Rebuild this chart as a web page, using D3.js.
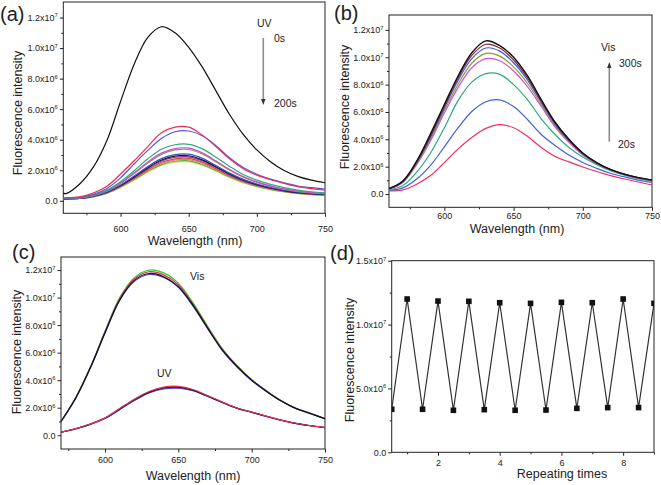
<!DOCTYPE html>
<html><head><meta charset="utf-8">
<script src="https://cdn.jsdelivr.net/npm/d3@7"></script>
<style>body{margin:0;background:#fff} text{font-family:"Liberation Sans",Arial,sans-serif}</style>
</head><body><svg id="c" width="661" height="485"></svg>
<script>
// ---------- DATA (intensities in units of 1e6) ----------
// Panel (a): UV irradiation 0 s -> 200 s
const wlA = [558,560,570,580,590,600,610,620,630,640,650,660,670,680,690,700,710,720,730,740,750];
const aBlack   = [0.5,0.47,1.1,2.2,3.95,6.5,8.95,10.7,11.4,11.0,10.05,8.75,7.2,5.65,4.35,3.33,2.56,1.98,1.6,1.35,1.18];
const aRed     = [0.2,0.2,0.26,0.5,0.95,1.75,2.62,3.55,4.45,4.83,4.82,4.3,3.55,2.75,2.1,1.68,1.38,1.14,0.93,0.8,0.7];
const aBlue    = [0.18,0.18,0.23,0.41,0.81,1.5,2.42,3.3,4.08,4.52,4.57,4.26,3.61,2.82,2.18,1.74,1.42,1.17,0.97,0.86,0.77];
const aTeal    = [0.15,0.15,0.21,0.37,0.7,1.25,1.97,2.75,3.37,3.67,3.7,3.4,2.85,2.25,1.72,1.35,1.07,0.86,0.7,0.59,0.52];
const aMagenta = [0.15,0.15,0.2,0.35,0.66,1.17,1.83,2.54,3.12,3.42,3.45,3.14,2.61,2.05,1.59,1.24,0.98,0.78,0.64,0.54,0.48];
const aOlive   = [0.15,0.15,0.19,0.34,0.64,1.14,1.78,2.47,3.04,3.33,3.36,3.06,2.54,2.0,1.55,1.21,0.95,0.76,0.62,0.53,0.47];
const aNavy    = [0.14,0.14,0.17,0.31,0.58,1.04,1.62,2.24,2.76,3.02,3.05,2.78,2.31,1.81,1.4,1.1,0.87,0.69,0.56,0.48,0.43];
const aBlack2  = [0.14,0.14,0.17,0.3,0.56,1.0,1.56,2.17,2.67,2.92,2.95,2.68,2.23,1.76,1.36,1.06,0.84,0.67,0.54,0.46,0.41];
const aPurple  = [0.13,0.13,0.16,0.29,0.55,0.98,1.53,2.12,2.61,2.85,2.88,2.62,2.18,1.71,1.32,1.04,0.82,0.65,0.53,0.45,0.4];
const aRed2    = [0.13,0.13,0.16,0.28,0.53,0.95,1.47,2.04,2.52,2.75,2.78,2.53,2.1,1.65,1.28,1.0,0.79,0.63,0.51,0.44,0.39];
const aPink    = [0.13,0.13,0.15,0.27,0.51,0.92,1.43,1.98,2.44,2.67,2.7,2.46,2.04,1.61,1.24,0.97,0.77,0.61,0.5,0.42,0.38];
const aGreen   = [0.12,0.12,0.15,0.26,0.5,0.89,1.39,1.93,2.37,2.59,2.62,2.38,1.98,1.56,1.21,0.94,0.74,0.59,0.48,0.41,0.37];
const aYellow  = [0.12,0.12,0.15,0.26,0.48,0.87,1.35,1.87,2.31,2.52,2.55,2.32,1.93,1.52,1.17,0.92,0.72,0.58,0.47,0.4,0.36];

// Panel (b): visible irradiation 20 s -> 300 s
const wlB = [560,570,580,590,600,610,620,630,640,650,660,670,680,690,700,710,720,730,740,750];
const bRed     = [0.22,0.3,0.72,1.35,2.3,3.3,4.15,4.8,5.08,4.85,4.22,3.4,2.75,2.35,1.98,1.65,1.35,1.1,0.88,0.66];
const bBlue    = [0.28,0.45,1.1,2.1,3.45,4.85,6.05,6.75,6.88,6.4,5.45,4.35,3.55,2.85,2.3,1.88,1.52,1.25,1.02,0.85];
const bTeal    = [0.32,0.62,1.6,3.0,4.85,6.85,8.2,8.8,8.75,8.0,6.9,5.5,4.35,3.4,2.7,2.15,1.7,1.38,1.13,0.95];
const bMagenta = [0.36,0.84,2.15,3.88,5.92,7.8,9.25,9.9,9.75,9.0,7.85,6.4,4.9,3.78,2.85,2.22,1.75,1.41,1.17,0.99];
const bOlive   = [0.37,0.87,2.22,4.0,6.1,8.05,9.58,10.28,10.08,9.3,8.1,6.55,5.0,3.85,2.9,2.25,1.77,1.43,1.18,1.0];
const bBlue2   = [0.38,0.9,2.3,4.15,6.3,8.33,9.92,10.68,10.45,9.6,8.35,6.7,5.1,3.9,2.94,2.27,1.78,1.44,1.19,1.01];
const bBrown   = [0.4,0.92,2.35,4.25,6.42,8.5,10.15,10.95,10.68,9.8,8.5,6.8,5.18,3.95,2.97,2.29,1.79,1.45,1.2,1.02];
const bBlack   = [0.4,0.95,2.4,4.4,6.55,8.65,10.35,11.2,10.85,10.0,8.65,6.9,5.25,4.0,3.0,2.3,1.8,1.45,1.2,1.02];

// Panel (c): repeated Vis / UV cycles
const wlC = [570,580,590,600,610,620,630,640,650,660,670,680,690,700,710,720,730,740,750];
const cVisGreen = [1.0,2.72,4.95,7.55,10.0,11.45,12.0,11.8,11.05,9.62,7.92,6.3,5.07,4.05,3.24,2.53,1.97,1.6,1.21];
const cVisRed   = [1.0,2.7,4.92,7.5,9.92,11.35,11.88,11.65,10.93,9.52,7.84,6.24,5.03,4.02,3.22,2.51,1.96,1.59,1.2];
const cVisBlue  = [0.98,2.68,4.88,7.42,9.8,11.18,11.68,11.47,10.75,9.38,7.74,6.15,4.96,3.97,3.18,2.49,1.94,1.57,1.19];
const cVisBlack = [1.0,2.7,4.9,7.45,9.83,11.25,11.75,11.52,10.8,9.45,7.78,6.2,5.0,4.0,3.2,2.5,1.95,1.58,1.2];
const cUvPurple = [0.22,0.47,0.8,1.23,1.88,2.55,3.1,3.4,3.44,3.25,2.83,2.38,1.96,1.67,1.37,1.09,0.86,0.69,0.56];
const cUvBlue   = [0.22,0.46,0.79,1.22,1.86,2.52,3.07,3.37,3.42,3.24,2.82,2.37,1.95,1.66,1.36,1.09,0.86,0.69,0.56];
const cUvBlack  = [0.22,0.47,0.81,1.25,1.91,2.58,3.13,3.45,3.5,3.28,2.85,2.4,1.97,1.68,1.38,1.1,0.86,0.69,0.56];
const cUvRed    = [0.22,0.48,0.82,1.26,1.94,2.62,3.18,3.5,3.55,3.32,2.88,2.42,1.98,1.69,1.39,1.1,0.87,0.7,0.56];

// Panel (d): intensity at each half cycle
const dTimes = [0.5,1,1.5,2,2.5,3,3.5,4,4.5,5,5.5,6,6.5,7,7.5,8,8.5,9];
const dVals  = [3.37,12.0,3.37,11.84,3.29,11.82,3.34,11.71,3.29,11.66,3.31,11.74,3.44,11.71,3.5,12.0,3.5,11.66];

// ---------- DRAWING ----------
const svg = d3.select("#c");
svg.append("rect").attr("width",661).attr("height",485).attr("fill","#fff");
const INK = "#222";

function sciLabel(textSel){
  textSel.each(function(v){
    const t = d3.select(this); t.text(null);
    if (v === 0) { t.text("0.0"); return; }
    let e = 6, m = v;
    if (v >= 10) { e = 7; m = v/10; }
    t.append("tspan").text(m.toFixed(1) + "x10");
    t.append("tspan").attr("dy", -3.5).attr("font-size", 5.8).text(e);
  });
}

function panel(o){
  const x = d3.scaleLinear().domain(o.xd).range([o.l, o.r]);
  const y = d3.scaleLinear().domain(o.yd).range([o.b, o.t]);
  const g = svg.append("g");
  const cid = "clip-" + o.name;
  svg.append("clipPath").attr("id", cid).append("rect")
    .attr("x", o.l).attr("y", o.t).attr("width", o.r - o.l).attr("height", o.b - o.t);
  const styleAxis = s => { s.select(".domain").remove(); s.selectAll("line").attr("stroke", INK); s.selectAll("text").attr("fill", INK).attr("font-size", 9); };
  g.append("g").attr("transform", `translate(0,${o.b})`)
    .call(d3.axisBottom(x).tickValues(o.xMinor).tickSize(2).tickFormat("")).call(styleAxis);
  g.append("g").attr("transform", `translate(0,${o.b})`)
    .call(d3.axisBottom(x).tickValues(o.xMajor).tickSize(3.5).tickPadding(o.xpad).tickFormat(d3.format("d"))).call(styleAxis);
  g.append("g").attr("transform", `translate(${o.l},0)`)
    .call(d3.axisLeft(y).tickValues(o.yMinor).tickSize(2).tickFormat("")).call(styleAxis);
  const ya = g.append("g").attr("transform", `translate(${o.l},0)`)
    .call(d3.axisLeft(y).tickValues(o.yMajor).tickSize(3.5).tickPadding(2)).call(styleAxis);
  ya.selectAll(".tick text").call(sciLabel);
  g.append("rect").attr("x", o.l).attr("y", o.t).attr("width", o.r - o.l).attr("height", o.b - o.t)
    .attr("fill", "none").attr("stroke", INK).attr("stroke-width", 1);
  svg.append("text").attr("transform", `translate(${o.ylx},${o.yly}) rotate(-90)`)
    .attr("text-anchor", "middle").attr("dominant-baseline", "central").attr("font-size", 12.5).attr("fill", INK)
    .text("Fluorescence intensity");
  svg.append("text").attr("x", o.xlx).attr("y", o.xly).attr("text-anchor", "middle")
    .attr("dominant-baseline", "central").attr("font-size", 12.5).attr("fill", INK).text(o.xTitle);
  svg.append("text").attr("x", o.tagx).attr("y", o.tagy).attr("font-size", 20).attr("fill", INK).text(o.tag);
  const plot = svg.append("g").attr("clip-path", `url(#${cid})`);
  return {x, y, plot};
}

function drawSpectra(p, wl, series){
  const line = d3.line().x((d,i) => p.x(wl[i])).y(d => p.y(d)).curve(d3.curveCatmullRom.alpha(0.5));
  series.forEach(s => {
    p.plot.append("path").attr("d", line(s.v)).attr("fill", "none")
      .attr("stroke", s.c).attr("stroke-width", s.w || 1.2);
  });
}

function arrow(x, y1, y2){
  const dir = y2 > y1 ? 1 : -1;
  svg.append("line").attr("x1", x).attr("x2", x).attr("y1", y1).attr("y2", y2 - dir*5)
    .attr("stroke", "#8c8c8c").attr("stroke-width", 1.6);
  svg.append("path").attr("d", `M${x-2.2},${y2 - dir*6} L${x+2.2},${y2 - dir*6} L${x},${y2} Z`).attr("fill", "#333");
}
function label(x, y, t, size){
  svg.append("text").attr("x", x).attr("y", y).attr("font-size", size || 10.5).attr("fill", INK)
    .attr("dominant-baseline", "central").text(t);
}

const specYMajor = [0,2,4,6,8,10,12];
const specYMinor = [1,3,5,7,9,11];

// (a)
const pa = panel({name:"a", l:63.3, r:325, t:2, b:213.3, xd:[558,750], yd:[-0.82,13.02],
  xMajor:[600,650,700,750], xMinor:[575,625,675,725], yMajor:specYMajor, yMinor:specYMinor, xpad:9,
  ylx:18, yly:113, xlx:195, xly:241, xTitle:"Wavelength (nm)", tag:"(a)", tagx:0, tagy:21});
drawSpectra(pa, wlA, [
  {v:aYellow, c:"#e6e070"}, {v:aGreen, c:"#2ec82e"}, {v:aPink, c:"#f07890"}, {v:aRed2, c:"#e23c4a"},
  {v:aPurple, c:"#7a3a9a"}, {v:aBlack2, c:"#1a1a1a"}, {v:aNavy, c:"#3a4fc8"}, {v:aOlive, c:"#9a9a50"},
  {v:aMagenta, c:"#c84ae0"}, {v:aTeal, c:"#2ea87c"}, {v:aBlue, c:"#4a5ae0"}, {v:aRed, c:"#ee2c58"},
  {v:aBlack, c:"#111"}
]);
label(257, 23, "UV");
label(274, 38, "0s");
label(274, 103, "200s");
arrow(263.3, 38, 105);

// (b)
const pb = panel({name:"b", l:389, r:652, t:15, b:207.3, xd:[560,750], yd:[-0.97,13.09],
  xMajor:[600,650,700,750], xMinor:[575,625,675,725], yMajor:specYMajor, yMinor:specYMinor, xpad:1.5,
  ylx:345, yly:107, xlx:517, xly:229, xTitle:"Wavelength (nm)", tag:"(b)", tagx:334, tagy:20});
drawSpectra(pb, wlB, [
  {v:bRed, c:"#f0305e"}, {v:bBlue, c:"#4060dc"}, {v:bTeal, c:"#2aaa82"}, {v:bMagenta, c:"#d050e0"},
  {v:bOlive, c:"#8a9a30"}, {v:bBlue2, c:"#3a5ae0"}, {v:bBrown, c:"#8b2030"}, {v:bBlack, c:"#111", w:1.4}
]);
label(601, 47, "Vis");
label(619, 63, "300s");
label(618, 144, "20s");
arrow(609.3, 141.7, 62);

// (c)
const pc = panel({name:"c", l:61, r:325, t:257, b:449, xd:[570,750], yd:[-1.0,12.95],
  xMajor:[600,650,700,750], xMinor:[575,625,675,725], yMajor:specYMajor, yMinor:specYMinor, xpad:4.5,
  ylx:17, yly:352, xlx:193, xly:476, xTitle:"Wavelength (nm)", tag:"(c)", tagx:12, tagy:259});
drawSpectra(pc, wlC, [
  {v:cVisGreen, c:"#30d030"}, {v:cVisRed, c:"#e03050"}, {v:cVisBlue, c:"#4050e0"}, {v:cVisBlack, c:"#111"},
  {v:cUvPurple, c:"#a040c0"}, {v:cUvBlue, c:"#4050d0"}, {v:cUvBlack, c:"#111"}, {v:cUvRed, c:"#e83050"}
]);
label(190, 276, "Vis");
label(157, 373, "UV");

// (d)
const pd = panel({name:"d", l:391.7, r:654, t:260.7, b:452.3, xd:[0.5,9], yd:[0,15],
  xMajor:[2,4,6,8], xMinor:[1,3,5,7,9], yMajor:[0,5,10,15], yMinor:[2.5,7.5,12.5], xpad:4,
  ylx:350, yly:360, xlx:562, xly:474, xTitle:"Repeating times", tag:"(d)", tagx:330, tagy:260});
const dLine = d3.line().x((d,i) => pd.x(dTimes[i])).y(d => pd.y(d));
pd.plot.append("path").attr("d", dLine(dVals)).attr("fill", "none").attr("stroke", "#333").attr("stroke-width", 1.2);
pd.plot.selectAll("rect.pt").data(dVals).enter().append("rect").attr("class", "pt")
  .attr("x", (d,i) => pd.x(dTimes[i]) - 2.8).attr("y", d => pd.y(d) - 2.8)
  .attr("width", 5.6).attr("height", 5.6).attr("fill", "#111");
</script>
</body></html>
